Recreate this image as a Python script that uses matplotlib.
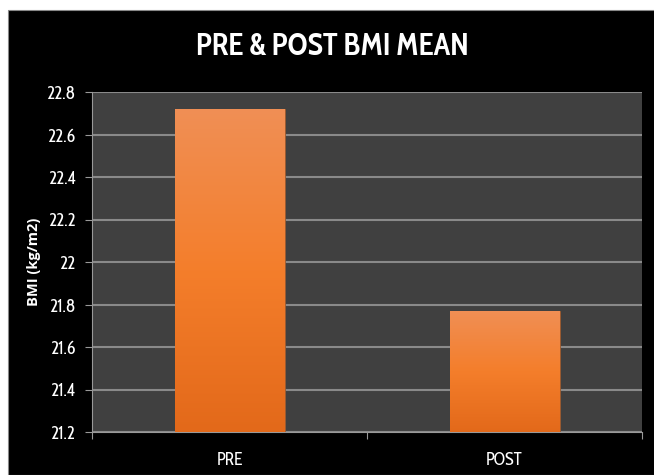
import numpy as np
import matplotlib
matplotlib.use("Agg")
import matplotlib.pyplot as plt
from matplotlib.patches import Rectangle
from matplotlib.colors import LinearSegmentedColormap

categories = ["PRE", "POST"]
bmi_mean = [22.72, 21.77]
yticks = [21.2, 21.4, 21.6, 21.8, 22.0, 22.2, 22.4, 22.6, 22.8]
ytick_labels = ["21.2", "21.4", "21.6", "21.8", "22", "22.2", "22.4", "22.6", "22.8"]

plt.rcParams['font.family'] = ['Cabin Condensed', 'DejaVu Sans']

fig = plt.figure(figsize=(6.54, 4.75), dpi=100, facecolor="white")
# black chart area with thin white margin on top and left
fig.patches.append(Rectangle((8/654, 0), 1, (475-10)/475, transform=fig.transFigure,
                             facecolor="black", edgecolor="#888888", lw=0.8, zorder=-10))

ax = fig.add_axes([92/654, 1-432/475, (642-92)/654, (432-92)/475])
ax.set_facecolor("#404040")

x = np.arange(len(categories))
bars = ax.bar(x, bmi_mean, width=0.4, color="#F07F30", edgecolor="#9a5a30", lw=0.6, zorder=3)

# vertical orange gradient inside each bar
grad = LinearSegmentedColormap.from_list("og", ["#E3691A", "#F47E2B", "#F08F55"])
g = np.linspace(0, 1, 256).reshape(-1, 1)
for b in bars:
    im = ax.imshow(g, cmap=grad, aspect="auto", origin="lower", zorder=4,
                   extent=[b.get_x(), b.get_x() + b.get_width(), 21.2, b.get_height()])
    im.set_clip_path(b)

ax.set_xlim(-0.5, 1.5)
ax.set_ylim(21.2, 22.8)
ax.set_yticks(yticks)
ax.set_yticklabels(ytick_labels)
ax.grid(axis="y", color="#8a8a8a", lw=1.5, zorder=1)
ax.set_axisbelow(True)

ax.set_xticks([-0.5, 0.5, 1.5])
ax.set_xticklabels([])
ax.set_xticks(x, minor=True)
ax.set_xticklabels(categories, minor=True)
ax.tick_params(axis="x", which="minor", length=0, pad=14, labelsize=12.5, labelcolor="white")
ax.tick_params(axis="x", which="major", length=5, color="#999999")
ax.tick_params(axis="y", length=5, color="#999999", labelsize=13, labelcolor="white", pad=7)

for s in ["top", "right"]:
    ax.spines[s].set_visible(False)
ax.spines["left"].set_color("#999999")
ax.spines["bottom"].set_color("#999999")

ax.set_ylabel("BMI (kg/m2)", color="white", fontsize=10.5, fontweight="bold",
              family=["Open Sans", "DejaVu Sans"], labelpad=4)

fig.text(332/654, 1-47/475, "PRE & POST BMI MEAN", color="white", fontsize=22,
         fontweight="bold", ha="center", va="center")

fig.savefig("out.png", dpi=100, facecolor=fig.get_facecolor())
